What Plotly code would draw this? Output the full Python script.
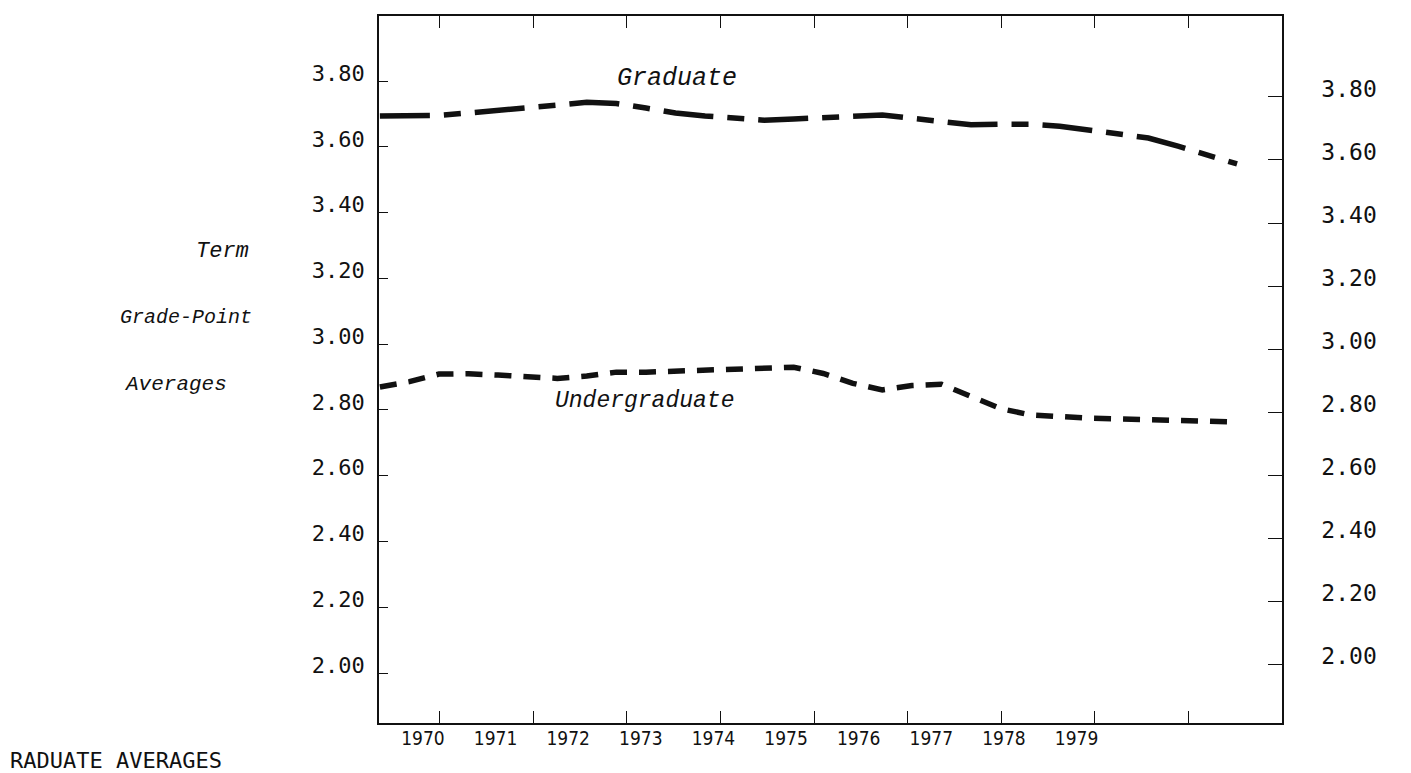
import plotly.graph_objects as go

# ---- data (term index along x, grade-point averages along y) ----
terms = list(range(30))
graduate = [3.694, 3.695, 3.696, 3.703, 3.710, 3.718, 3.727, 3.736, 3.732, 3.718,
            3.703, 3.694, 3.689, 3.681, 3.685, 3.690, 3.695, 3.697, 3.687, 3.675,
            3.667, 3.669, 3.669, 3.663, 3.650, 3.639, 3.627, 3.602, 3.573, 3.548]
undergraduate = [2.870, 2.886, 2.909, 2.910, 2.906, 2.900, 2.896, 2.903, 2.915, 2.915,
                 2.918, 2.921, 2.924, 2.927, 2.930, 2.911, 2.881, 2.861, 2.874, 2.878,
                 2.842, 2.804, 2.785, 2.778, 2.775, 2.773, 2.771, 2.770, 2.766, 2.763]
years = [1970, 1971, 1972, 1973, 1974, 1975, 1976, 1977, 1978, 1979]
gpa_ticks = [2.00, 2.20, 2.40, 2.60, 2.80, 3.00, 3.20, 3.40, 3.60, 3.80]
frame_ticks = [2.03, 5.19, 8.36, 11.52, 14.69, 17.85, 21.02, 24.18, 27.35]

MONO = "DejaVu Sans Mono"
ITAL = "Liberation Mono"
NARROW = "DejaVu Sans Condensed, Liberation Sans Narrow, Liberation Sans, sans-serif"
INK = "#111111"

# plot frame (pixels)
L, T, W, H = 371, 8, 903, 707

fig = go.Figure()
fig.add_trace(go.Scatter(x=terms, y=graduate, mode="lines", name="Graduate",
                         line=dict(color=INK, width=5.5, dash="50px,14px,17px,14px"),
                         showlegend=False, hoverinfo="skip"))
fig.add_trace(go.Scatter(x=terms, y=undergraduate, mode="lines", name="Undergraduate",
                         line=dict(color=INK, width=5.5, dash="17px,12px"),
                         showlegend=False, hoverinfo="skip"))
# empty trace so the year axis and the right-hand GPA axis are drawn
fig.add_trace(go.Scatter(x=years, y=[None] * len(years), xaxis="x2", yaxis="y2",
                         mode="none", showlegend=False, hoverinfo="skip"))

fig.update_layout(
    width=1411, height=773, autosize=False,
    margin=dict(l=L, r=1411 - L - W, t=T, b=773 - T - H, autoexpand=False),
    paper_bgcolor="white", plot_bgcolor="white",
    xaxis=dict(range=[-0.03, 30.52], showgrid=False, zeroline=False, automargin=False,
               showline=True, linecolor=INK, linewidth=1.5, mirror="ticks",
               ticks="inside", ticklen=12, tickwidth=1.2, tickcolor=INK,
               tickvals=frame_ticks, showticklabels=False),
    xaxis2=dict(range=[1969.394, 1981.83], overlaying="x", side="bottom", anchor="y",
                showgrid=False, zeroline=False, showline=False, ticks="", automargin=False,
                tickvals=years, ticktext=[str(v) for v in years], ticklabelstandoff=2,
                tickfont=dict(family=NARROW, size=19, color=INK)),
    yaxis=dict(range=[1.848, 3.998], showgrid=False, zeroline=False, automargin=False,
               showline=True, linecolor=INK, linewidth=1.5,
               ticks="inside", ticklen=9, tickwidth=1.2, tickcolor=INK,
               tickvals=gpa_ticks, tickformat=".2f", ticklabelstandoff=8,
               ticklabelshift=-8,
               tickfont=dict(family=MONO, size=22, color=INK)),
    yaxis2=dict(range=[1.813, 4.057], overlaying="y", side="right", anchor="x",
                showgrid=False, zeroline=False, automargin=False,
                showline=True, linecolor=INK, linewidth=1.5,
                ticks="inside", ticklen=14, tickwidth=1.2, tickcolor=INK,
                tickvals=gpa_ticks, tickformat=".2f", ticklabelstandoff=33,
                ticklabelshift=-8,
                tickfont=dict(family=MONO, size=23, color=INK)),
)

def note(text, px, py, size=22, family=ITAL, italic=True, anchor="left", yanchor="middle"):
    fig.add_annotation(
        text=text, xref="paper", yref="paper",
        x=(px - 377) / 903, y=(722 - py) / 707,
        xanchor=anchor, yanchor=yanchor, showarrow=False,
        font=dict(family=family, size=size, color=INK,
                  style="italic" if italic else "normal"))

note("Term", 192, 250, size=22)
note("Grade-Point", 116, 316, size=20)
note("Averages", 120, 383, size=21)
note("Graduate", 613, 78, size=25)
note("Undergraduate", 551, 400, size=23)
note("RADUATE AVERAGES", 6, 774, size=22, family=MONO, italic=False, yanchor="bottom")

fig.write_html("out.html")
